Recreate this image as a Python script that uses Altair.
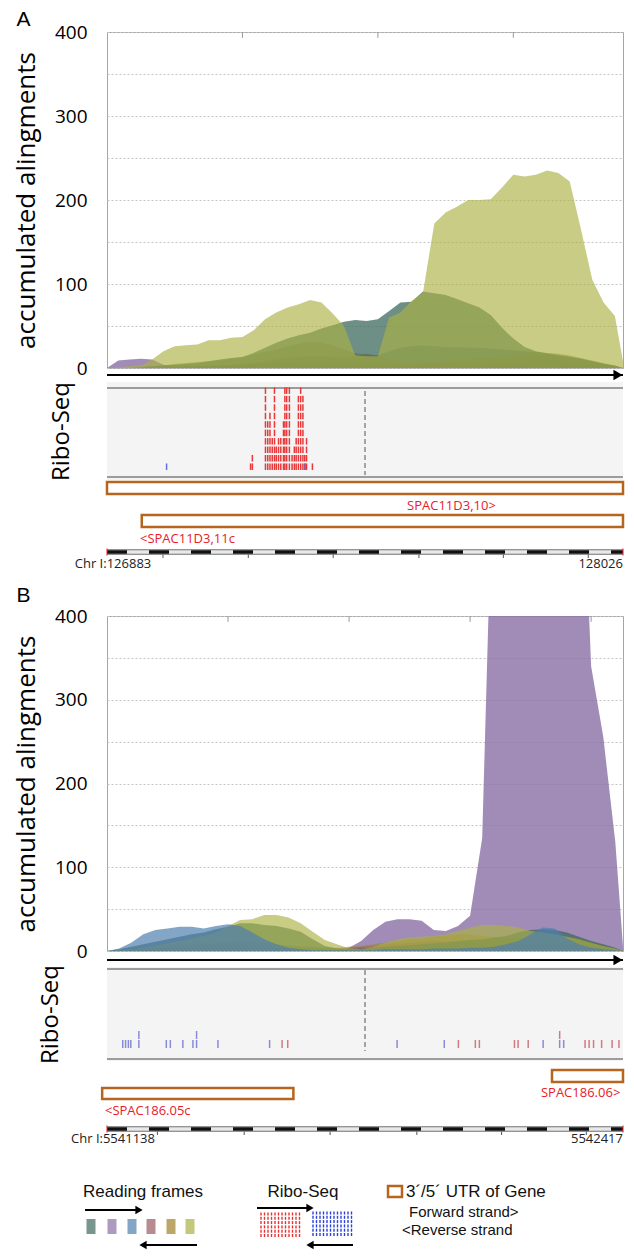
import altair as alt
import pandas as pd

FONT_PLOT = "Open Sans"
FONT_GENE = "Open Sans"
FONT_LEG = "Liberation Sans"

# ---------------- Panel A data ----------------
A_START, A_END = 126883, 128026
A_POS = [126883, 126908, 126933, 126958, 126983, 127008, 127033, 127058, 127083, 127108,
         127133, 127158, 127183, 127208, 127233, 127258, 127283, 127308, 127333, 127358,
         127383, 127408, 127433, 127458, 127483, 127508, 127533, 127558, 127583, 127608,
         127633, 127658, 127683, 127708, 127733, 127758, 127783, 127808, 127833, 127858,
         127883, 127908, 127933, 127958, 127983, 128008, 128026]
A_FRAME1 = [0, 0, 0, 1, 2, 3, 4, 5, 6, 8, 10, 12, 13, 18, 24, 30, 35, 39, 42, 47, 51, 55, 57, 56,
            58, 68, 78, 79, 91, 89, 87, 82, 77, 72, 63, 48, 35, 25, 20, 17, 15, 13, 11, 8, 5, 3, 0]
A_FRAME2 = [0, 9, 10, 11, 10, 4, 2, 2, 2, 2, 2, 3, 3, 4, 4, 5, 5, 5, 5, 5, 5, 4, 4, 4,
            4, 4, 4, 4, 5, 5, 5, 6, 6, 6, 6, 7, 7, 7, 8, 8, 7, 6, 5, 4, 3, 2, 0]
A_FRAME3 = [0, 0, 0, 0, 1, 1, 1, 2, 2, 2, 3, 3, 4, 5, 6, 7, 8, 9, 10, 10, 10, 10, 10, 12,
            15, 20, 24, 26, 27, 26, 25, 25, 24, 24, 23, 22, 21, 20, 19, 18, 16, 14, 11, 8, 5, 2, 0]
A_FRAME4 = [0, 0, 0, 0, 1, 1, 2, 2, 2, 3, 3, 4, 5, 6, 8, 10, 12, 13, 14, 14, 13, 12, 14, 17,
            15, 6, 4, 4, 5, 6, 8, 9, 10, 11, 12, 13, 14, 15, 16, 15, 14, 12, 10, 7, 5, 2, 0]
A_FRAME5 = [0, 0, 0, 1, 2, 3, 5, 6, 7, 8, 9, 11, 13, 16, 19, 22, 26, 29, 31, 30, 27, 22, 18, 16,
            15, 10, 8, 8, 8, 8, 9, 10, 11, 12, 13, 15, 16, 18, 19, 18, 17, 15, 12, 9, 6, 3, 0]
A_FRAME6 = [0, 1, 2, 3, 10, 20, 26, 27, 28, 33, 33, 36, 37, 45, 58, 66, 72, 76, 81, 78, 65, 50, 15, 14,
            14, 60, 66, 80, 90, 172, 185, 192, 200, 200, 201, 215, 230, 228, 230, 235, 232, 222, 165, 105, 78, 62, 8]
A_TOP_TICKS = [127183, 127483, 127783]
A_RULER_TICKS = [127007, 127196, 127384, 127574, 127761, 127949]
A_RIBO_FWD_POS = [127201, 127205, 127234, 127239, 127244, 127249, 127254, 127258, 127263, 127268,
                  127274, 127277, 127281, 127287, 127293, 127298, 127302, 127307, 127312, 127317,
                  127321, 127325, 127338]
A_RIBO_FWD_DEPTH = [1, 2, 10, 6, 7, 4, 10, 3, 4, 4, 6, 10, 10, 10, 2, 3, 4, 9, 10, 9, 2, 4, 1]
A_RIBO_REV_POS = [127015, 127322]
A_RIBO_REV_DEPTH = [1, 1]
A_GENE_NAMES = ["SPAC11D3,10>", "<SPAC11D3,11c"]
A_GENE_START = [126883, 126960]
A_GENE_END = [128026, 128026]
A_GENE_LABEL_POS = [127646, 126956]
A_GENE_LABEL_ALIGN = ["center", "left"]
A_CHR_LABELS = ["Chr I:126883", "128026"]

# ---------------- Panel B data ----------------
B_START, B_END = 5541138, 5542417
B_POS = [5541138, 5541168, 5541198, 5541228, 5541258, 5541288, 5541318, 5541348, 5541378, 5541408,
         5541438, 5541468, 5541498, 5541528, 5541558, 5541588, 5541618, 5541648, 5541678, 5541708,
         5541738, 5541768, 5541798, 5541828, 5541858, 5541888, 5541918, 5541948, 5541978, 5542008,
         5542038, 5542068, 5542098, 5542128, 5542158, 5542188, 5542218, 5542248, 5542278, 5542308,
         5542338, 5542368, 5542398, 5542417]
B_FRAME1 = [0, 2, 5, 8, 11, 14, 17, 20, 22, 26, 29, 33, 33, 31, 30, 27, 23, 14, 6, 3, 2, 3,
            4, 5, 6, 7, 8, 9, 10, 12, 13, 14, 16, 18, 22, 25, 26, 25, 22, 17, 12, 8, 4, 0]
B_FRAME2 = [0, 0, 1, 1, 1, 1, 1, 1, 1, 1, 1, 1, 1, 1, 1, 1, 1, 1, 1, 1, 4, 12,
            25, 35, 38, 38, 36, 25, 24, 30, 42, 135, 650, 700, 720, 700, 690, 700, 710, 700, 340, 256, 130, 5]
B_FRAME3 = [0, 3, 10, 20, 25, 27, 29, 29, 27, 30, 32, 30, 22, 14, 8, 4, 2, 1, 1, 1, 1, 1,
            1, 2, 2, 2, 2, 3, 3, 3, 4, 4, 5, 8, 12, 20, 28, 27, 15, 8, 4, 2, 1, 0]
B_FRAME4 = [0, 0, 1, 2, 3, 4, 5, 5, 6, 6, 6, 6, 5, 5, 4, 4, 3, 3, 3, 3, 4, 5,
            6, 8, 9, 10, 11, 12, 12, 11, 10, 9, 8, 8, 8, 9, 10, 10, 9, 8, 6, 4, 2, 0]
B_FRAME5 = [0, 1, 3, 4, 5, 6, 7, 8, 9, 9, 10, 10, 10, 9, 8, 7, 6, 5, 4, 4, 5, 6,
            8, 10, 12, 14, 15, 17, 19, 20, 20, 18, 17, 16, 15, 15, 16, 17, 16, 14, 11, 7, 3, 0]
B_FRAME6 = [0, 1, 2, 4, 6, 9, 12, 15, 18, 22, 30, 37, 38, 43, 43, 40, 33, 23, 13, 8, 3, 2,
            5, 10, 14, 16, 17, 18, 20, 24, 28, 31, 31, 30, 28, 24, 22, 20, 17, 14, 10, 6, 3, 0]
B_TOP_TICKS = [5541438, 5541738, 5542038, 5542338]
B_RULER_TICKS = [5541263, 5541478, 5541691, 5541906, 5542116, 5542326]
B_RIBO_POS = [5541177, 5541184, 5541191, 5541197, 5541217, 5541217, 5541285, 5541295, 5541326,
              5541351, 5541360, 5541360, 5541413, 5541541, 5541572, 5541586, 5541857, 5541974,
              5542009, 5542051, 5542061, 5542148, 5542157, 5542182, 5542219, 5542260, 5542260,
              5542270, 5542323, 5542333, 5542344, 5542364, 5542390, 5542407]
B_RIBO_ROW = [1, 1, 1, 1, 1, 2, 1, 1, 1, 1, 1, 2, 1, 1, 1, 1, 1, 1,
              1, 1, 1, 1, 1, 1, 1, 1, 2, 1, 1, 1, 1, 1, 1, 1]
B_RIBO_STRAND = ["rev", "rev", "rev", "rev", "rev", "rev", "rev", "rev", "rev",
                 "rev", "rev", "rev", "rev", "rev", "fwd", "fwd", "rev", "rev",
                 "fwd", "fwd", "fwd", "fwd", "fwd", "fwd", "rev", "rev", "fwd",
                 "rev", "fwd", "fwd", "fwd", "fwd", "fwd", "fwd"]
B_GENE_NAMES = ["SPAC186.06>", "<SPAC186.05c"]
B_GENE_START = [5542241, 5541126]
B_GENE_END = [5542417, 5541600]
B_GENE_LABEL_POS = [5542312, 5541133]
B_GENE_LABEL_ALIGN = ["center", "left"]
B_CHR_LABELS = ["Chr I:5541138", "5542417"]

# ---------------- Styles ----------------
FRAMES = ["frame1", "frame2", "frame3", "frame4", "frame5", "frame6"]
FRAME_COLORS = {"frame1": "#3e6a5c", "frame2": "#8a6fa5", "frame3": "#4f7fae",
                "frame4": "#9a5a62", "frame5": "#a0822a", "frame6": "#aab144"}
FRAME_OPACITY = {"frame1": 0.75, "frame2": 0.8, "frame3": 0.7,
                 "frame4": 0.5, "frame5": 0.55, "frame6": 0.65}
UTR_COLOR = "#b5651d"
RED = "#e8202a"


def xscale(start, end):
    return alt.Scale(domain=[start, end], nice=False, zero=False, padding=0)


def pxscale(h):
    return alt.Scale(domain=[0, h], reverse=True, nice=False, zero=False)


def cov_panel(pos, series, order, start, end, width, height, top_ticks, label, title_dy):
    xs = xscale(start, end)
    ys = alt.Scale(domain=[0, 400], nice=False)
    yax = alt.Axis(values=list(range(0, 401, 50)),
                   labelExpr="datum.value % 100 === 0 ? datum.label : ''",
                   grid=True, gridColor="#c4c4c4", gridDash=[2, 2], ticks=False, domain=False,
                   labelFont=FONT_PLOT, labelFontSize=19, labelColor="black", labelPadding=20,
                   title="accumulated alingments", titleFont=FONT_PLOT, titleFontSize=26,
                   titleFontWeight="normal", titleColor="black", titlePadding=15)
    layers = []
    for f in order:
        df = pd.DataFrame({"pos": pos, "v": series[f]})
        layers.append(alt.Chart(df).mark_area(color=FRAME_COLORS[f], opacity=FRAME_OPACITY[f],
                                              clip=True).encode(
            x=alt.X("pos:Q", scale=xs, axis=None),
            y=alt.Y("v:Q", scale=ys, axis=yax, stack=None)))
    tdf = pd.DataFrame({"pos": top_ticks, "y": [400] * len(top_ticks), "y2": [393] * len(top_ticks)})
    layers.append(alt.Chart(tdf).mark_rule(color="#999999", strokeWidth=1).encode(
        x=alt.X("pos:Q", scale=xs, axis=None), y=alt.Y("y:Q", scale=ys, axis=yax), y2="y2:Q"))
    tp = dict(anchor="start", frame="bounds", font=FONT_LEG, fontSize=21,
              fontWeight="normal", color="black", offset=-7, dx=3)
    if title_dy:
        tp["dy"] = title_dy
    return alt.layer(*layers).properties(
        width=width, height=height,
        title=alt.TitleParams(label, **tp),
        view=alt.ViewBackground(stroke="#a5a5a5", strokeWidth=1, fill="white"))


def arrow_panel(start, end, width, height, yoff):
    xs = xscale(start, end)
    ys = pxscale(height)
    df = pd.DataFrame({"x": [start], "x2": [end], "y": [yoff]})
    line = alt.Chart(df).mark_rule(color="black", strokeWidth=2.2).encode(
        x=alt.X("x:Q", scale=xs, axis=None), x2="x2:Q", y=alt.Y("y:Q", scale=ys, axis=None))
    head = alt.Chart(df).mark_point(shape="triangle-right", filled=True, color="black", opacity=1,
                                    size=110, xOffset=-5).encode(
        x=alt.X("x2:Q", scale=xs, axis=None), y=alt.Y("y:Q", scale=ys, axis=None))
    return alt.layer(line, head).properties(width=width, height=height)


def ribo_panel(start, end, width, height, ticks, lay, fwd_color, rev_color, title_pad):
    xs = xscale(start, end)
    ys = pxscale(height)
    yax = alt.Axis(title="Ribo-Seq", labels=False, ticks=False, domain=False, grid=False,
                   titleFont=FONT_PLOT, titleFontSize=24, titleFontWeight="normal",
                   titleColor="black", titlePadding=title_pad)
    ldf = pd.DataFrame({"y": [lay["top_line"], lay["bot_line"]]})
    lines = alt.Chart(ldf).mark_rule(color="#9c9c9c", strokeWidth=2).encode(
        y=alt.Y("y:Q", scale=ys, axis=yax))
    cdf = pd.DataFrame({"x": [(start + end) / 2], "y": [lay["dash_top"]], "y2": [lay["dash_bot"]]})
    center = alt.Chart(cdf).mark_rule(color="#555555", strokeWidth=1, strokeDash=[5, 3]).encode(
        x=alt.X("x:Q", scale=xs, axis=None), y=alt.Y("y:Q", scale=ys, axis=yax), y2="y2:Q")
    t = ticks.copy()
    t["y"] = lay["row1"] - (t["row"] - 1) * lay["row_step"]
    layers = [lines, center]
    for strand, col in (("fwd", fwd_color), ("rev", rev_color)):
        sub = t[t["strand"] == strand]
        layers.append(alt.Chart(sub).mark_tick(orient="vertical", size=lay["tick_len"], thickness=1.5,
                                               color=col, opacity=1).encode(
            x=alt.X("pos:Q", scale=xs, axis=None), y=alt.Y("y:Q", scale=ys, axis=yax)))
    return alt.layer(*layers).properties(
        width=width, height=height, view=alt.ViewBackground(fill="#f4f4f4", strokeWidth=0))


def genes_panel(start, end, width, height, names, gstart, gend, lpos, lalign, ruler, chr_labels, lay):
    xs = xscale(start, end)
    ys = pxscale(height)
    gdf = pd.DataFrame({"name": names, "s": gstart, "e": gend, "lp": lpos, "al": lalign,
                        "y": lay["box_top"], "y2": lay["box_bot"], "ly": lay["label_y"]})
    boxes = alt.Chart(gdf).mark_rect(fill="white", stroke=UTR_COLOR, strokeWidth=2.5).encode(
        x=alt.X("s:Q", scale=xs, axis=None), x2="e:Q",
        y=alt.Y("y:Q", scale=ys, axis=None), y2="y2:Q")
    layers = [boxes]
    for al in ("left", "center", "right"):
        sub = gdf[gdf["al"] == al]
        if len(sub):
            layers.append(alt.Chart(sub).mark_text(color=RED, font=FONT_GENE, fontSize=13, align=al,
                                                   baseline="middle").encode(
                x=alt.X("lp:Q", scale=xs, axis=None), y=alt.Y("ly:Q", scale=ys, axis=None),
                text="name:N"))
    bar = pd.DataFrame({"x": [start], "x2": [end], "y": [lay["bar_y"]]})
    for color, w, dash in (("#6f6f6f", 5.5, None), ("#e8e8e8", 3.5, None), ("#111111", 3.5, [20, 22])):
        kw = dict(color=color, strokeWidth=w)
        if dash:
            kw["strokeDash"] = dash
        layers.append(alt.Chart(bar).mark_rule(**kw).encode(
            x=alt.X("x:Q", scale=xs, axis=None), x2="x2:Q", y=alt.Y("y:Q", scale=ys, axis=None)))
    caps = pd.DataFrame({"x": [start, end], "y": [lay["bar_y"]] * 2})
    layers.append(alt.Chart(caps).mark_tick(orient="vertical", size=7, thickness=1.5, color=RED).encode(
        x=alt.X("x:Q", scale=xs, axis=None), y=alt.Y("y:Q", scale=ys, axis=None)))
    rdf = pd.DataFrame({"x": ruler, "y": [lay["bar_y"] + 2.5] * len(ruler), "y2": [lay["bar_y"] + 6] * len(ruler)})
    layers.append(alt.Chart(rdf).mark_rule(color="#555555", strokeWidth=1).encode(
        x=alt.X("x:Q", scale=xs, axis=None), y=alt.Y("y:Q", scale=ys, axis=None), y2="y2:Q"))
    ldf = pd.DataFrame({"x": [start], "y": [lay["chr_y"]], "t": [chr_labels[0]]})
    rdf2 = pd.DataFrame({"x": [end], "y": [lay["chr_y"]], "t": [chr_labels[1]]})
    layers.append(alt.Chart(ldf).mark_text(font=FONT_GENE, fontSize=13, color="#222222", align="center",
                                           dx=6, baseline="middle").encode(
        x=alt.X("x:Q", scale=xs, axis=None), y=alt.Y("y:Q", scale=ys, axis=None), text="t:N"))
    layers.append(alt.Chart(rdf2).mark_text(font=FONT_GENE, fontSize=13, color="#222222", align="right",
                                            baseline="middle").encode(
        x=alt.X("x:Q", scale=xs, axis=None), y=alt.Y("y:Q", scale=ys, axis=None), text="t:N"))
    return alt.layer(*layers).properties(width=width, height=height)


# ---------------- Layout (panel pixel offsets) ----------------
W_A, W_B = 516, 516
H_COV_A, H_ARROW_A, H_RIBO_A, H_GENES_A = 336, 14, 98, 136
H_COV_B, H_ARROW_B, H_RIBO_B, H_GENES_B = 335, 16, 94, 85
H_LEG = 102

RIBO_A_LAY = {"top_line": 6, "bot_line": 95, "dash_top": 9, "dash_bot": 93,
              "row1": 84.7, "row_step": 8.45, "tick_len": 6.5}
RIBO_B_LAY = {"top_line": 2, "bot_line": 92, "dash_top": 3, "dash_bot": 84,
              "row1": 77, "row_step": 9, "tick_len": 8}
GENES_A_LAY = {"box_top": [2, 35], "box_bot": [14, 47], "label_y": [26, 59], "bar_y": 72, "chr_y": 84}
GENES_B_LAY = {"box_top": [9, 27], "box_bot": [21, 38], "label_y": [32, 50], "bar_y": 68, "chr_y": 78}

# ---------------- Build panels ----------------
a_series = {"frame1": A_FRAME1, "frame2": A_FRAME2, "frame3": A_FRAME3,
            "frame4": A_FRAME4, "frame5": A_FRAME5, "frame6": A_FRAME6}
b_series = {"frame1": B_FRAME1, "frame2": B_FRAME2, "frame3": B_FRAME3,
            "frame4": B_FRAME4, "frame5": B_FRAME5, "frame6": B_FRAME6}

covA = cov_panel(A_POS, a_series, ["frame2", "frame3", "frame4", "frame5", "frame1", "frame6"],
                 A_START, A_END, W_A, H_COV_A, A_TOP_TICKS, "A", 0)
arrowA = arrow_panel(A_START, A_END, W_A, H_ARROW_A, 7)

ribo_a_rows = []
for p, d in zip(A_RIBO_FWD_POS, A_RIBO_FWD_DEPTH):
    for r in range(1, d + 1):
        ribo_a_rows.append({"pos": p, "row": r, "strand": "fwd"})
for p, d in zip(A_RIBO_REV_POS, A_RIBO_REV_DEPTH):
    for r in range(1, d + 1):
        ribo_a_rows.append({"pos": p, "row": r, "strand": "rev"})
riboA = ribo_panel(A_START, A_END, W_A, H_RIBO_A, pd.DataFrame(ribo_a_rows), RIBO_A_LAY,
                   "#e8383a", "#6a6ae0", 34)
genesA = genes_panel(A_START, A_END, W_A, H_GENES_A, A_GENE_NAMES, A_GENE_START, A_GENE_END,
                     A_GENE_LABEL_POS, A_GENE_LABEL_ALIGN, A_RULER_TICKS, A_CHR_LABELS, GENES_A_LAY)

covB = cov_panel(B_POS, b_series, ["frame2", "frame5", "frame4", "frame1", "frame6", "frame3"],
                 B_START, B_END, W_B, H_COV_B, B_TOP_TICKS, "B", -8)
arrowB = arrow_panel(B_START, B_END, W_B, H_ARROW_B, 9)
ribo_b = pd.DataFrame({"pos": B_RIBO_POS, "row": B_RIBO_ROW, "strand": B_RIBO_STRAND})
riboB = ribo_panel(B_START, B_END, W_B, H_RIBO_B, ribo_b, RIBO_B_LAY, "#d07a84", "#8a8ad8", 45)
genesB = genes_panel(B_START, B_END, W_B, H_GENES_B, B_GENE_NAMES, B_GENE_START, B_GENE_END,
                     B_GENE_LABEL_POS, B_GENE_LABEL_ALIGN, B_RULER_TICKS, B_CHR_LABELS, GENES_B_LAY)

# ---------------- Custom legend (page-pixel layout) ----------------
LEG_X0, LEG_X1, LEG_Y0, LEG_Y1 = 107, 623, 1147, 1249
lxs = alt.Scale(domain=[LEG_X0, LEG_X1], nice=False, zero=False, padding=0)
lys = alt.Scale(domain=[LEG_Y0, LEG_Y1], reverse=True, nice=False, zero=False)
LX = lambda f: alt.X(f, scale=lxs, axis=None)
LY = lambda f: alt.Y(f, scale=lys, axis=None)

leg_text_c = pd.DataFrame({"t": ["Reading frames", "Ribo-Seq"], "x": [143, 303], "y": [1193, 1193]})
leg_text_l = pd.DataFrame({"t": ["3´/5´ UTR of Gene", "Forward strand>", "<Reverse strand"],
                           "x": [406, 409, 402], "y": [1193, 1213, 1231], "fs": [17, 15, 15]})
leg_arrows = pd.DataFrame({"x": [85, 197, 257, 353], "x2": [136, 146, 307, 313],
                           "y": [1211, 1246, 1209, 1246]})
leg_heads_r = pd.DataFrame({"x": [139, 310], "y": [1211, 1209]})
leg_heads_l = pd.DataFrame({"x": [143, 310], "y": [1246, 1246]})
sq_x = [91, 112, 132, 151, 171, 190]
leg_squares = pd.DataFrame({"frame": FRAMES, "x": [v - 4.5 for v in sq_x], "x2": [v + 4.5 for v in sq_x],
                            "y": [1220] * 6, "y2": [1235] * 6})
block = []
for strand, x0 in (("fwd", 261), ("rev", 313)):
    for c in range(12):
        for r in range(6):
            block.append({"strand": strand, "x": x0 + c * 3.5,
                          "y": (1215 if strand == "fwd" else 1214) + r * 4.3})
leg_block = pd.DataFrame(block)
utr_sq = pd.DataFrame({"x": [388], "x2": [402], "y": [1187], "y2": [1198]})

leg_layers = [
    alt.Chart(leg_text_c).mark_text(font=FONT_LEG, fontSize=17, color="#111111", align="center",
                                    baseline="middle").encode(x=LX("x:Q"), y=LY("y:Q"), text="t:N"),
    alt.Chart(leg_text_l).mark_text(font=FONT_LEG, color="#111111", align="left",
                                    baseline="middle").encode(x=LX("x:Q"), y=LY("y:Q"), text="t:N",
                                                              size=alt.Size("fs:Q", scale=None)),
    alt.Chart(leg_arrows).mark_rule(color="black", strokeWidth=2.2).encode(x=LX("x:Q"), x2="x2:Q", y=LY("y:Q")),
    alt.Chart(leg_heads_r).mark_point(shape="triangle-right", filled=True, color="black", opacity=1,
                                      size=70).encode(x=LX("x:Q"), y=LY("y:Q")),
    alt.Chart(leg_heads_l).mark_point(shape="triangle-left", filled=True, color="black", opacity=1,
                                      size=70).encode(x=LX("x:Q"), y=LY("y:Q")),
    alt.Chart(leg_squares).mark_rect(opacity=0.7).encode(
        x=LX("x:Q"), x2="x2:Q", y=LY("y:Q"), y2="y2:Q",
        color=alt.Color("frame:N", scale=alt.Scale(domain=FRAMES, range=[FRAME_COLORS[f] for f in FRAMES]),
                        legend=None)),
    alt.Chart(leg_block[leg_block["strand"] == "fwd"]).mark_tick(orient="vertical", size=3, thickness=1.4,
                                                                 color="#e83030", opacity=1).encode(
        x=LX("x:Q"), y=LY("y:Q")),
    alt.Chart(leg_block[leg_block["strand"] == "rev"]).mark_tick(orient="vertical", size=3, thickness=1.4,
                                                                 color="#2a3fe0", opacity=1).encode(
        x=LX("x:Q"), y=LY("y:Q")),
    alt.Chart(utr_sq).mark_rect(fill="white", stroke=UTR_COLOR, strokeWidth=2.5).encode(
        x=LX("x:Q"), x2="x2:Q", y=LY("y:Q"), y2="y2:Q"),
]
legend = alt.layer(*leg_layers).properties(width=W_B, height=H_LEG)

chart = alt.vconcat(covA, arrowA, riboA, genesA, covB, arrowB, riboB, genesB, legend,
                    spacing=0, bounds="flush").properties(
    padding={"left": 4, "top": 0, "right": 0, "bottom": 0}).configure_view(strokeWidth=0)

chart.save("out.html", embed_options={"renderer": "svg", "actions": False})
